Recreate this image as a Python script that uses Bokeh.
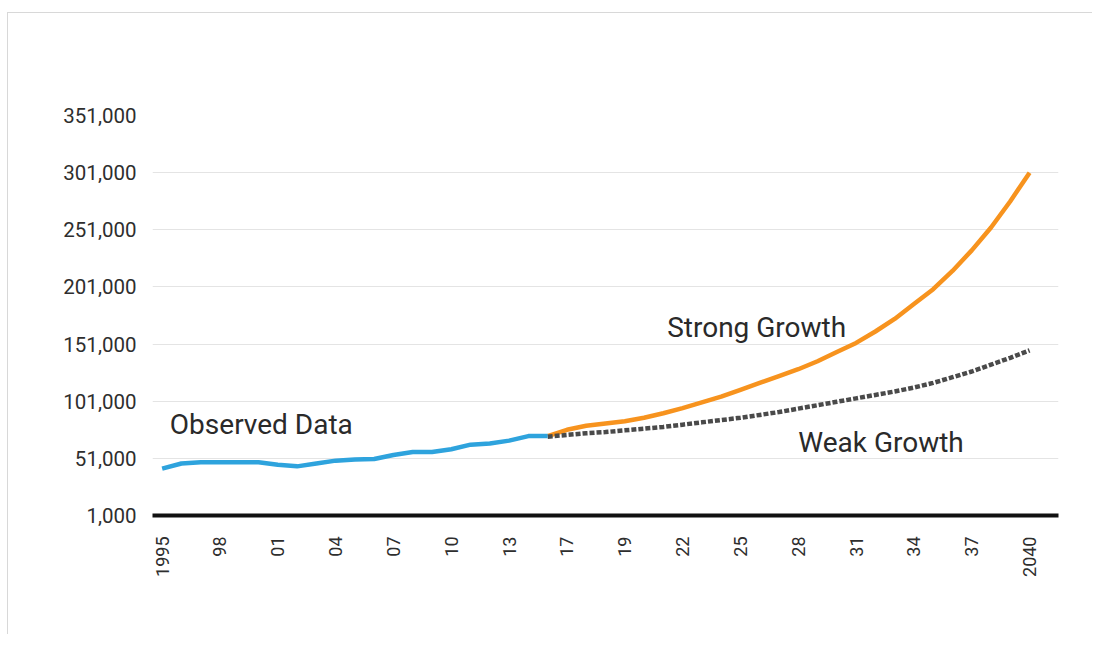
from bokeh.plotting import figure
from bokeh.models import FixedTicker, NumeralTickFormatter, Range1d, ColumnDataSource
from bokeh.core.properties import value
from bokeh.embed import file_html
from bokeh.resources import INLINE
import math

# ---- data ----
tick_labels = ["1995", "98", "01", "04", "07", "10", "13", "17", "19",
               "22", "25", "28", "31", "34", "37", "2040"]
y_ticks = [1000, 51000, 101000, 151000, 201000, 251000, 301000, 351000]

observed = [42000, 46500, 47500, 47500, 47500, 47500, 45500, 44000, 46500, 49000,
            50000, 50500, 54000, 56500, 56500, 59000, 63000, 64000, 66500, 70500,
            70500]
strong = [70500, 76000, 79500, 81500, 83500, 86500, 90500, 95000, 100000, 105000,
          111000, 117000, 123000, 129000, 136000, 144000, 152000, 162000, 173000,
          186000, 199000, 215000, 233000, 253000, 276000, 301000]
weak = [70000, 71500, 73000, 74000, 75500, 77000, 78500, 80500, 82500, 84500,
        86500, 89000, 91500, 94500, 97500, 100500, 103500, 106500, 109500, 113000,
        117000, 122000, 127000, 133000, 139000, 145500]

labels = ["Observed Data", "Strong Growth", "Weak Growth"]
label_x = [0.4, 26.2, 33.0]
label_y = [80500, 165300, 64800]

obs_x = list(range(len(observed)))
proj_start = len(observed) - 1
proj_x = list(range(proj_start, proj_start + len(strong)))

p = figure(width=1085, height=622, output_backend="svg", toolbar_location=None,
           x_range=Range1d(-0.5, 46.5), y_range=Range1d(1000, 351000),
           min_border_left=144, min_border_right=35, min_border_top=102,
           min_border_bottom=120, margin=(12, 0, 0, 7),
           styles={"border-top": "1px solid #d8d8d8", "border-left": "1px solid #d8d8d8"})
p.outline_line_color = None
p.background_fill_color = "white"
p.border_fill_color = "white"

# grid
p.xgrid.grid_line_color = None
p.ygrid.grid_line_color = "#e4e4e4"
p.ygrid.grid_line_width = 1
p.yaxis.ticker = FixedTicker(ticks=y_ticks)

# y axis
p.yaxis.formatter = NumeralTickFormatter(format="0,0")
p.yaxis.axis_line_color = None
p.yaxis.major_tick_line_color = None
p.yaxis.minor_tick_line_color = None
p.yaxis.major_label_text_font = "Roboto"
p.yaxis.major_label_text_font_size = "20.5px"
p.yaxis.major_label_text_color = "#2e2e2e"
p.yaxis.major_label_standoff = 10

# x axis
p.xaxis.ticker = FixedTicker(ticks=[3 * i for i in range(len(tick_labels))])
p.xaxis.major_label_overrides = {3 * i: t for i, t in enumerate(tick_labels)}
p.xaxis.axis_line_color = "#111111"
p.xaxis.axis_line_width = 4
p.xaxis.major_tick_line_color = None
p.xaxis.minor_tick_line_color = None
p.xaxis.major_label_orientation = math.pi / 2
p.xaxis.major_label_text_font = "Roboto"
p.xaxis.major_label_text_font_size = "18px"
p.xaxis.major_label_text_color = "#2e2e2e"
p.xaxis.major_label_standoff = 15

# lines
p.line(proj_x, strong, line_color="#f7931e", line_width=4.5)
p.line(proj_x, weak, line_color="#4a4a4a", line_width=4.5, line_dash="5 2")
p.line(obs_x, observed, line_color="#2ea3dd", line_width=4.5)

src = ColumnDataSource(dict(x=label_x, y=label_y, t=labels))
p.text(x="x", y="y", text="t", source=src, text_font=value("Roboto"),
       text_font_size="28px", text_color="#2a2a2a", text_baseline="middle",
       text_align="left")

open("out.html", "w").write(file_html(p, INLINE))
